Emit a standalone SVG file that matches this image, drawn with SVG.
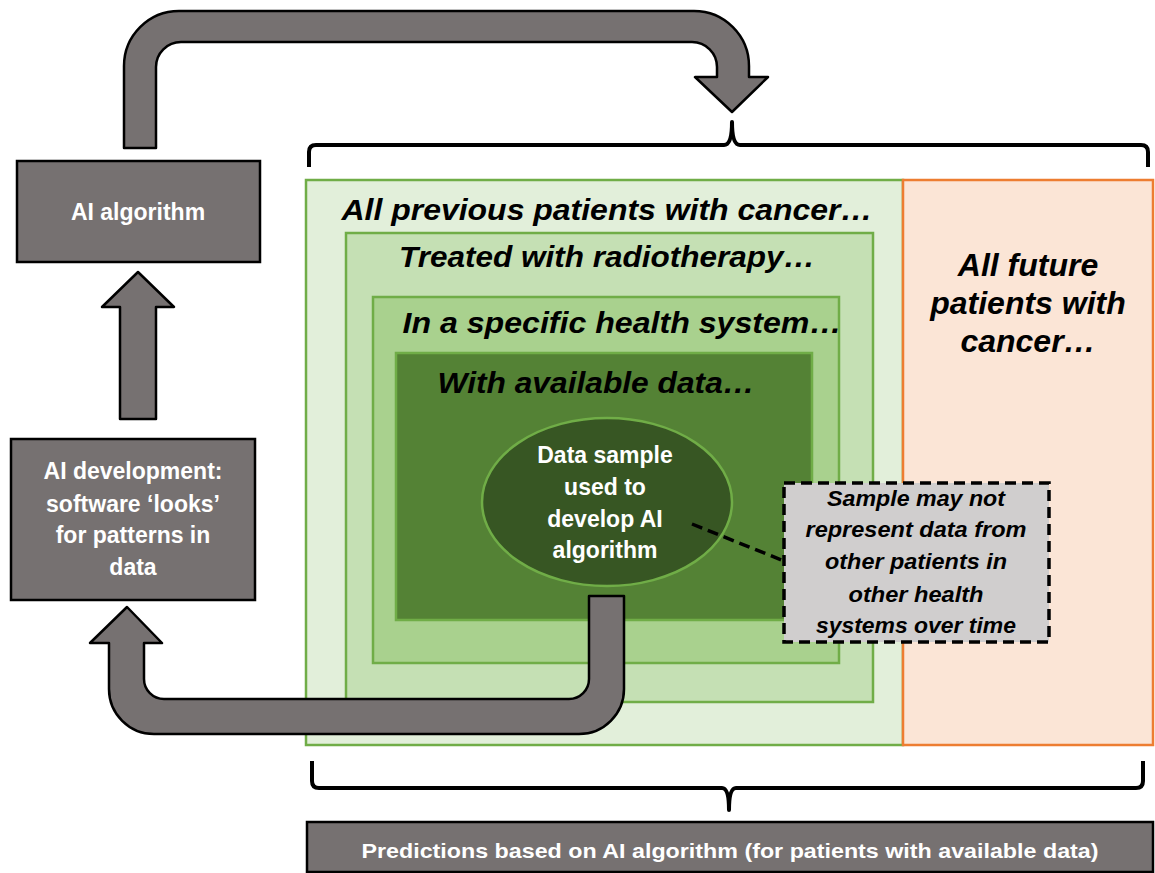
<svg xmlns="http://www.w3.org/2000/svg" width="1155" height="873" viewBox="0 0 1155 873">
<style>
.gbox{fill:#767171;stroke:#000;stroke-width:2.5}
.arrow{fill:#767171;stroke:#000;stroke-width:2.5;stroke-linejoin:round}
.brace{fill:none;stroke:#000;stroke-width:4;stroke-linejoin:round}
.wt{font-family:"Liberation Sans",Arial,sans-serif;font-weight:bold;fill:#fff;text-anchor:middle}
.it{font-family:"Liberation Sans",Arial,sans-serif;font-weight:bold;font-style:italic;fill:#000;text-anchor:middle}
.g{stroke:#70ad47;stroke-width:2.5}
.dash{stroke:#000;stroke-width:3.5;stroke-dasharray:11 6}
</style>
<rect width="1155" height="873" fill="#fff"/>

<g id="population">
  <rect class="g" x="306" y="180" width="597" height="565" fill="#e2efda"/>
  <rect x="903" y="180" width="250" height="565" fill="#fbe5d6" stroke="#ed7d31" stroke-width="2.5"/>
  <rect class="g" x="346" y="233" width="527" height="469" fill="#c5e0b4"/>
  <rect class="g" x="373" y="297" width="466" height="366" fill="#a9d18e"/>
  <rect class="g" x="396" y="353" width="416" height="267" fill="#548235"/>
  <text class="it" x="607" y="220" font-size="30" textLength="531" lengthAdjust="spacingAndGlyphs">All previous patients with cancer…</text>
  <text class="it" x="607" y="267" font-size="30" textLength="416" lengthAdjust="spacingAndGlyphs">Treated with radiotherapy…</text>
  <text class="it" x="622" y="333" font-size="30" textLength="439" lengthAdjust="spacingAndGlyphs">In a specific health system…</text>
  <text class="it" x="596" y="393" font-size="30" textLength="317" lengthAdjust="spacingAndGlyphs">With available data…</text>
  <text class="it" x="1028" y="276" font-size="32">All future</text>
  <text class="it" x="1028" y="314" font-size="32">patients with</text>
  <text class="it" x="1028" y="352" font-size="32">cancer…</text>
</g>

<g id="data-sample">
  <ellipse cx="607" cy="502" rx="125" ry="84" fill="#375623" stroke="#70ad47" stroke-width="2.5"/>
  <text class="wt" x="605" y="463" font-size="23">Data sample</text>
  <text class="wt" x="605" y="495" font-size="23">used to</text>
  <text class="wt" x="605" y="527" font-size="23">develop AI</text>
  <text class="wt" x="605" y="558" font-size="23">algorithm</text>
</g>

<g id="ai-algorithm">
  <rect class="gbox" x="17" y="161" width="243" height="101"/>
  <text class="wt" x="138" y="220" font-size="23">AI algorithm</text>
</g>

<g id="ai-development">
  <rect class="gbox" x="11" y="439" width="244" height="161"/>
  <text class="wt" x="133" y="479" font-size="23">AI development:</text>
  <text class="wt" x="133" y="512" font-size="23">software ‘looks’</text>
  <text class="wt" x="133" y="543" font-size="23">for patterns in</text>
  <text class="wt" x="133" y="575" font-size="23">data</text>
</g>

<g id="predictions">
  <rect class="gbox" x="307" y="822" width="846" height="50"/>
  <text class="wt" x="730" y="858" font-size="21" textLength="737" lengthAdjust="spacingAndGlyphs">Predictions based on AI algorithm (for patients with available data)</text>
</g>

<g id="caveat">
  <rect x="784" y="483" width="265" height="159" fill="#d0cece" class="dash"/>
  <text class="it" x="916" y="506" font-size="22" textLength="178" lengthAdjust="spacingAndGlyphs">Sample may not</text>
  <text class="it" x="916" y="537" font-size="22" textLength="221" lengthAdjust="spacingAndGlyphs">represent data from</text>
  <text class="it" x="916" y="569" font-size="22" textLength="182" lengthAdjust="spacingAndGlyphs">other patients in</text>
  <text class="it" x="916" y="602" font-size="22" textLength="135" lengthAdjust="spacingAndGlyphs">other health</text>
  <text class="it" x="916" y="633" font-size="22" textLength="200" lengthAdjust="spacingAndGlyphs">systems over time</text>
</g>

<g id="connectors">
  <path class="arrow" d="M124,148 L124,66 A55,55 0 0 1 179,11 L694,11 A55,55 0 0 1 749,66 L749,77 L768,77 L732,112 L695,77 L717,77 L717,67 A25,25 0 0 0 692,42 L181,42 A25,25 0 0 0 156,67 L156,148 Z"/>
  <path class="arrow" d="M120,419 L120,307 L102,307 L138,272 L174,307 L156,307 L156,419 Z"/>
  <path class="arrow" d="M589,596 L624,596 L624,689 A45,45 0 0 1 579,734 L154,734 A45,45 0 0 1 109,689 L109,643 L90,643 L127,607 L162,643 L144,643 L144,679 A20,20 0 0 0 164,699 L569,699 A20,20 0 0 0 589,679 Z"/>
  <line x1="692" y1="524" x2="784" y2="561" class="dash" fill="none"/>
  <path class="brace" d="M309,167 L309,152 Q309,145 316,145 L724,145 Q732,145 732,122 Q732,145 740,145 L1141,145 Q1148,145 1148,152 L1148,167"/>
  <path class="brace" d="M312,761 L312,781 Q312,788 319,788 L722,788 Q729,788 729,810 Q729,788 736,788 L1136,788 Q1143,788 1143,781 L1143,761"/>
</g>
</svg>
